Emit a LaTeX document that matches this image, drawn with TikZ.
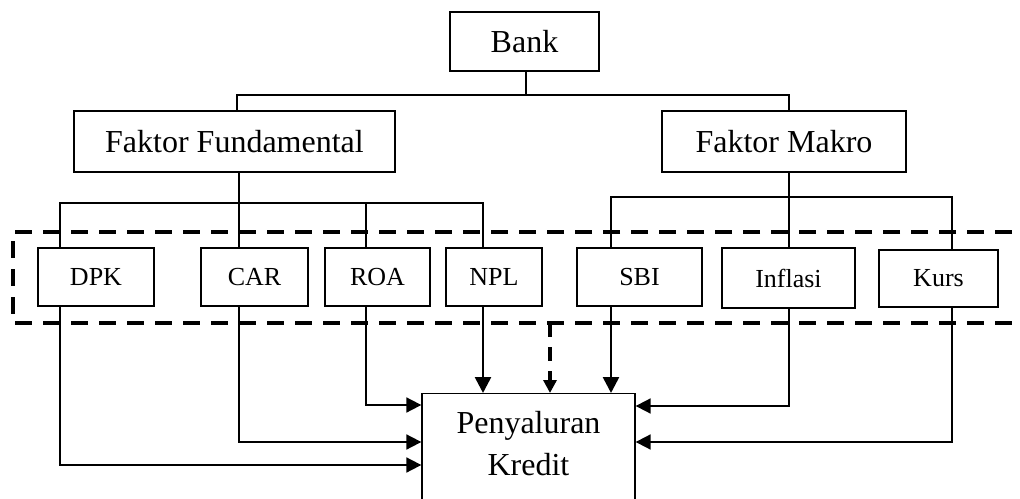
\documentclass[tikz,border=0pt]{standalone}
\usepackage{fontspec}
\setmainfont{Liberation Serif}
\usetikzlibrary{arrows.meta}
\begin{document}
\begin{tikzpicture}[x=1bp,y=-1bp,
  box/.style={draw,line width=1.3bp,inner sep=0pt,align=center},
  big/.style={box,font=\fontsize{32bp}{42bp}\selectfont},
  small/.style={box,font=\fontsize{26bp}{32bp}\selectfont,minimum height=58bp},
  conn/.style={line width=1.8bp},
  arr/.style={line width=1.8bp,-{Triangle[length=15bp,width=15bp]}},
  arrT/.style={line width=2.6bp,-{Triangle[length=16bp,width=16bp]}},
  dasharr/.style={line width=3.4bp,dash pattern=on 14bp off 10bp,-{Triangle[length=13bp,width=13bp]}},
  dbox/.style={line width=3.6bp,dash pattern=on 17bp off 11bp}
]
\useasboundingbox (0,0) rectangle (1020,499);
\clip (0,0) rectangle (1020,499);
\fill[white] (0,0) rectangle (1020,499);

% nodes
\node[big,minimum width=149bp,minimum height=59bp] (bank) at (524.5,41.5) {Bank};
\node[big,minimum width=321bp,minimum height=61bp] (ff) at (234.5,141.5) {Faktor Fundamental};
\node[big,minimum width=244bp,minimum height=61bp] (fm) at (784,141.5) {Faktor Makro};

\node[small,minimum width=116bp] (dpk) at (96,277) {DPK};
\node[small,minimum width=107bp] (car) at (254.5,277) {CAR};
\node[small,minimum width=105bp] (roa) at (377.5,277) {ROA};
\node[small,minimum width=96bp] (npl) at (494,277) {NPL};
\node[small,minimum width=125bp] (sbi) at (639.5,277) {SBI};
\node[small,minimum width=133bp,minimum height=60bp] (infl) at (788.5,278) {Inflasi};
\node[small,minimum width=119bp,minimum height=57bp] (kurs) at (938.5,278.5) {Kurs};

\node[box,font=\fontsize{32bp}{42bp}\selectfont,minimum width=213bp,
      text height=82bp,text depth=100bp,anchor=north] (pk) at (528.5,393) {Penyaluran\\Kredit};

% tap coordinates
\coordinate (xB) at (526,0);
\coordinate (xFFl) at (237,0);
\coordinate (xFM) at (789,0);
\coordinate (xF) at (239,0);
\coordinate (xD) at (60,0);
\coordinate (xR) at (366,0);
\coordinate (xN) at (483,0);
\coordinate (xS) at (611,0);
\coordinate (xK) at (952,0);
\coordinate (yTop) at (0,95);
\coordinate (yFF) at (0,203);
\coordinate (yFM) at (0,197);
\coordinate (yR) at (0,405);
\coordinate (yC) at (0,442);
\coordinate (yD) at (0,465);
\coordinate (yI) at (0,406);
\coordinate (yK) at (0,442);
\coordinate (dsh) at (550,323);

% dashed grouping frame
\draw[dbox] (1012,232) -- (13,232) -- (13,323) -- (1012,323);

% tree
\draw[conn] (bank.south -| xB) -- (xB |- yTop);
\draw[conn] (ff.north -| xFFl) |- (xFM |- yTop) -- (fm.north -| xFM);

\draw[conn] (ff.south -| xF) -- (car.north -| xF);
\draw[conn] (dpk.north -| xD) |- (xN |- yFF) -- (npl.north -| xN);
\draw[conn] (roa.north -| xR) -- (xR |- yFF);

\draw[conn] (fm.south -| xFM) -- (infl.north -| xFM);
\draw[conn] (sbi.north -| xS) |- (xK |- yFM) -- (kurs.north -| xK);

% arrows
\draw[arr] (roa.south -| xR) |- (pk.west |- yR);
\draw[arr] (car.south -| xF) |- (pk.west |- yC);
\draw[arr] (dpk.south -| xD) |- (pk.west |- yD);
\draw[arrT] (npl.south -| xN) -- (pk.north -| xN);
\draw[arrT] (sbi.south -| xS) -- (pk.north -| xS);
\draw[dasharr] (dsh) -- (pk.north -| dsh);
\draw[arr] (infl.south -| xFM) |- (pk.east |- yI);
\draw[arr] (kurs.south -| xK) |- (pk.east |- yK);
\end{tikzpicture}
\end{document}
